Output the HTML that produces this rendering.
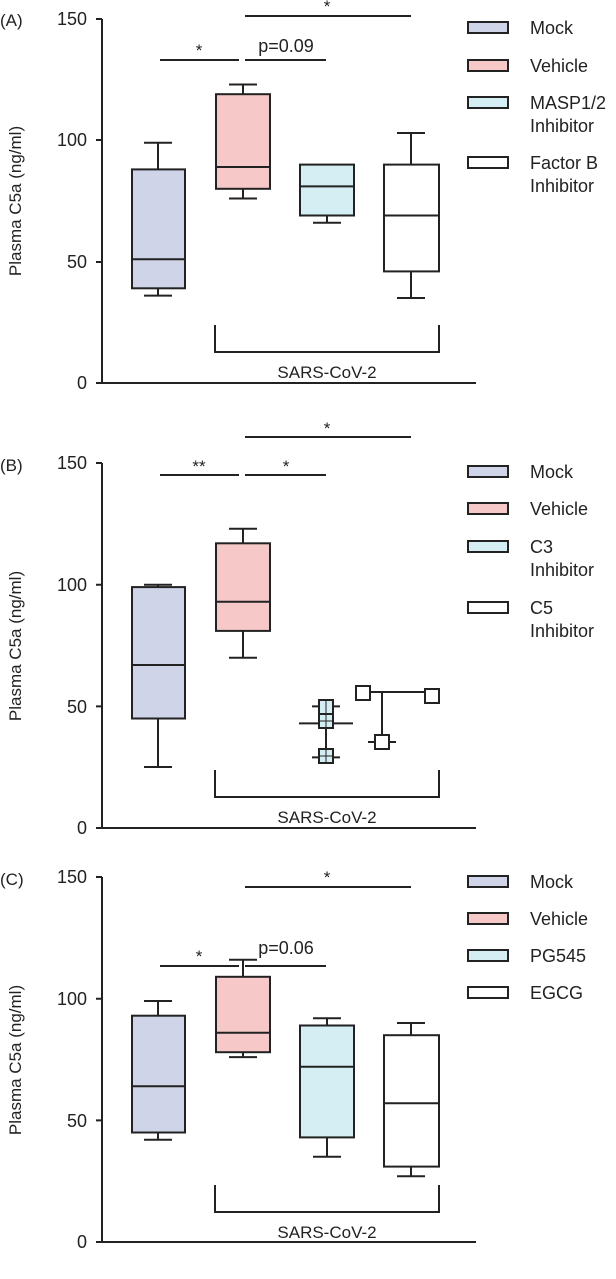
<!DOCTYPE html><html><head><style>body{margin:0;background:#fff}svg{display:block}text{font-family:"Liberation Sans",sans-serif;fill:#222}</style></head><body>
<svg width="616" height="1279" viewBox="0 0 616 1279" xmlns="http://www.w3.org/2000/svg" stroke="#222" stroke-width="2" fill="none">
<!-- Panel A -->
<g>
<text x="0" y="26" font-size="17" stroke="none">(A)</text>
<text transform="translate(21,201) rotate(-90)" text-anchor="middle" font-size="17" stroke="none">Plasma C5a (ng/ml)</text>
<g font-size="18" text-anchor="end" stroke="none"><text x="87" y="25">150</text><text x="87" y="146">100</text><text x="87" y="268">50</text><text x="87" y="389">0</text></g>
<path d="M102 19V383H476M96 19h6M96 140h6M96 262h6M96 383h6"/>
<path d="M158 295.6v-7.3M158 169.4v-26.7M144 295.6h28M144 142.7h28"/><rect x="132" y="169.4" width="53" height="118.9" fill="#d0d4e8"/><path d="M132 259.2h53"/>
<path d="M243 198.5v-9.7M243 94.2v-9.7M229 198.5h28M229 84.5h28"/><rect x="216" y="94.2" width="54" height="94.6" fill="#f7c8c8"/><path d="M216 167h54"/>
<path d="M327 222.8v-7.3M313 222.8h28"/><rect x="300" y="164.6" width="54" height="50.9" fill="#d4eef3"/><path d="M300 186.4h54"/>
<path d="M411 298v-26.6M411 164.6v-31.6M397 298h28M397 133h28"/><rect x="384" y="164.6" width="55" height="106.8" fill="#fff"/><path d="M384 215.5h55"/>
<path d="M160 60h79M245 60h81M245 16h166"/>
<g stroke="none" font-size="17" text-anchor="middle"><text x="199" y="56">*</text><text x="327" y="12">*</text><text x="286" y="52" font-size="18">p=0.09</text></g>
<path d="M215 325v27h224v-27"/><text x="327" y="378" font-size="17" text-anchor="middle" stroke="none">SARS-CoV-2</text>
</g>
<g><rect x="468" y="22" width="40" height="11" fill="#d0d4e8"/><rect x="468" y="60" width="40" height="11" fill="#f7c8c8"/><rect x="468" y="97" width="40" height="11" fill="#d4eef3"/><rect x="468" y="157" width="40" height="11" fill="#fff"/>
<g stroke="none" font-size="18"><text x="530" y="34">Mock</text><text x="530" y="72">Vehicle</text><text x="530" y="109">MASP1/2</text><text x="530" y="132">Inhibitor</text><text x="530" y="169">Factor B</text><text x="530" y="192">Inhibitor</text></g></g>

<!-- Panel B -->
<g>
<text x="0" y="471" font-size="17" stroke="none">(B)</text>
<text transform="translate(21,646) rotate(-90)" text-anchor="middle" font-size="17" stroke="none">Plasma C5a (ng/ml)</text>
<g font-size="18" text-anchor="end" stroke="none"><text x="87" y="469">150</text><text x="87" y="591">100</text><text x="87" y="713">50</text><text x="87" y="834">0</text></g>
<path d="M102 463V828H476M96 463h6M96 584.7h6M96 706.4h6M96 828h6"/>
<path d="M158 767v-48.5M158 587.1v-2.4M144 767h28M144 584.7h28"/><rect x="132" y="587.1" width="53" height="131.4" fill="#d0d4e8"/><path d="M132 665h53"/>
<path d="M243 657.7v-26.8M243 543.3v-14.6M229 657.7h28M229 528.7h28"/><rect x="216" y="543.3" width="54" height="87.6" fill="#f7c8c8"/><path d="M216 601.7h54"/>
<path d="M326 706.4v51M312 706.4h28M312 757.4h28M299 723.4h54"/>
<g fill="#d4eef3"><rect x="319" y="700" width="14" height="14"/><rect x="319" y="714" width="14" height="14"/><rect x="319" y="749" width="14" height="14"/></g>
<path d="M326 700v28M319 721h14M326 749v14M319 756h14" stroke-width="1"/>
<path d="M363 692h68M382 692v50M368 742h28"/>
<rect x="356" y="686" width="14" height="14" fill="#fff"/><rect x="425" y="689" width="14" height="14" fill="#fff"/><rect x="375" y="735" width="14" height="14" fill="#fff"/>
<path d="M160 475h79M245 475h81M245 437h166"/>
<g stroke="none" font-size="17" text-anchor="middle"><text x="199" y="472">**</text><text x="286" y="472">*</text><text x="327" y="434">*</text></g>
<path d="M215 770v27h224v-27"/><text x="327" y="823" font-size="17" text-anchor="middle" stroke="none">SARS-CoV-2</text>
</g>
<g><rect x="468" y="466" width="40" height="11" fill="#d0d4e8"/><rect x="468" y="503" width="40" height="11" fill="#f7c8c8"/><rect x="468" y="541" width="40" height="11" fill="#d4eef3"/><rect x="468" y="602" width="40" height="11" fill="#fff"/>
<g stroke="none" font-size="18"><text x="530" y="478">Mock</text><text x="530" y="515">Vehicle</text><text x="530" y="553">C3</text><text x="530" y="576">Inhibitor</text><text x="530" y="614">C5</text><text x="530" y="637">Inhibitor</text></g></g>

<!-- Panel C -->
<g>
<text x="0" y="885" font-size="17" stroke="none">(C)</text>
<text transform="translate(21,1060) rotate(-90)" text-anchor="middle" font-size="17" stroke="none">Plasma C5a (ng/ml)</text>
<g font-size="18" text-anchor="end" stroke="none"><text x="87" y="883">150</text><text x="87" y="1005">100</text><text x="87" y="1127">50</text><text x="87" y="1248">0</text></g>
<path d="M102 877V1242H476M96 877h6M96 998.7h6M96 1120.4h6M96 1242h6"/>
<path d="M158 1139.8v-7.3M158 1015.7v-14.7M144 1139.8h28M144 1001h28"/><rect x="132" y="1015.7" width="53" height="116.8" fill="#d0d4e8"/><path d="M132 1086.3h53"/>
<path d="M243 1057.1v-4.9M243 976.8v-17M229 1057.1h28M229 959.8h28"/><rect x="216" y="976.8" width="54" height="75.4" fill="#f7c8c8"/><path d="M216 1032.8h54"/>
<path d="M327 1156.8v-19.4M327 1025.5v-7.3M313 1156.8h28M313 1018.2h28"/><rect x="300" y="1025.5" width="54" height="111.9" fill="#d4eef3"/><path d="M300 1066.8h54"/>
<path d="M411 1176.3v-9.7M411 1035.2v-12.2M397 1176.3h28M397 1023h28"/><rect x="384" y="1035.2" width="55" height="131.4" fill="#fff"/><path d="M384 1103.3h55"/>
<path d="M160 966h79M245 966h81M245 887h166"/>
<g stroke="none" font-size="17" text-anchor="middle"><text x="199" y="962">*</text><text x="327" y="883">*</text><text x="286" y="954" font-size="18">p=0.06</text></g>
<path d="M215 1185v27h224v-27"/><text x="327" y="1238" font-size="17" text-anchor="middle" stroke="none">SARS-CoV-2</text>
</g>
<g><rect x="468" y="876" width="40" height="11" fill="#d0d4e8"/><rect x="468" y="913" width="40" height="11" fill="#f7c8c8"/><rect x="468" y="950" width="40" height="11" fill="#d4eef3"/><rect x="468" y="987" width="40" height="11" fill="#fff"/>
<g stroke="none" font-size="18"><text x="530" y="888">Mock</text><text x="530" y="925">Vehicle</text><text x="530" y="962">PG545</text><text x="530" y="999">EGCG</text></g></g>
</svg></body></html>
